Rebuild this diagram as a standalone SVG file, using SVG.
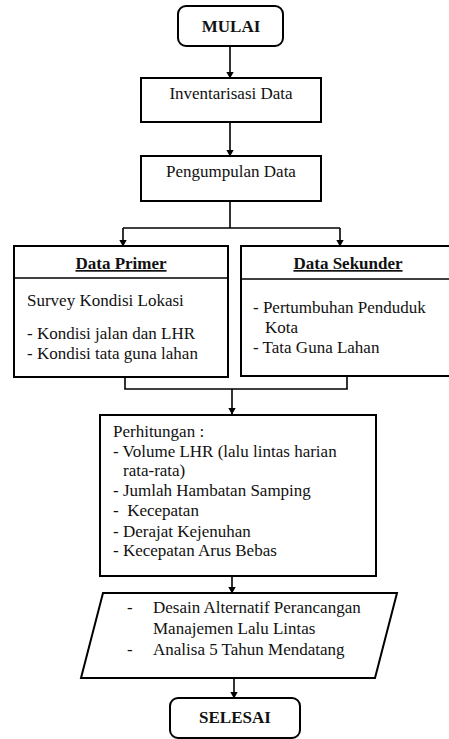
<svg xmlns="http://www.w3.org/2000/svg" width="449" height="739" viewBox="0 0 449 739">
<style>
.box{fill:#fff;stroke:#000;stroke-width:2}
.ln{fill:none;stroke:#000;stroke-width:1.6}
text{font-family:'Liberation Serif','Times New Roman',Tinos,'DejaVu Serif',serif;fill:#111;font-size:17px}
.b{font-weight:bold}
.c{text-anchor:middle}
.u{text-decoration:underline}
</style>
<defs>
<marker id="ah" markerWidth="7" markerHeight="8" refX="6.5" refY="4" orient="auto" markerUnits="userSpaceOnUse">
<path d="M0,0 L7,4 L0,8 Z" fill="#000"/>
</marker>
</defs>
<rect width="449" height="739" fill="#fff"/>
<g id="connectors">
<line class="ln" x1="230" y1="46" x2="230" y2="78" marker-end="url(#ah)"/>
<line class="ln" x1="230" y1="122" x2="230" y2="156" marker-end="url(#ah)"/>
<polyline class="ln" points="230,201 230,228"/>
<polyline class="ln" points="123,228 340,228"/>
<polyline class="ln" points="123,228 123,246" marker-end="url(#ah)"/>
<polyline class="ln" points="340,228 340,246" marker-end="url(#ah)"/>
<polyline class="ln" points="125,377 125,389 347,389 347,376"/>
<line class="ln" x1="232" y1="389" x2="232" y2="414" marker-end="url(#ah)"/>
<line class="ln" x1="232" y1="576" x2="232" y2="593" marker-end="url(#ah)"/>
<line class="ln" x1="234" y1="678" x2="234" y2="698" marker-end="url(#ah)"/>
</g>
<g id="mulai">
<rect class="box" x="178" y="6" width="105" height="40" rx="8"/>
<text class="b c" x="231" y="32" font-size="16">MULAI</text>
</g>
<g id="inventarisasi">
<rect class="box" x="141" y="78" width="180" height="44"/>
<text class="c" x="231" y="99">Inventarisasi Data</text>
</g>
<g id="pengumpulan">
<rect class="box" x="141" y="156" width="180" height="45"/>
<text class="c" x="231" y="177">Pengumpulan Data</text>
</g>
<g id="data-primer">
<rect class="box" x="14" y="246" width="214" height="131"/>
<line class="ln" x1="14" y1="278" x2="228" y2="278" stroke-width="2"/>
<text class="b c u" x="121" y="269">Data Primer</text>
<text x="27" y="306">Survey Kondisi Lokasi</text>
<text x="27" y="339">- Kondisi jalan dan LHR</text>
<text x="27" y="359">- Kondisi tata guna lahan</text>
</g>
<g id="data-sekunder">
<rect class="box" x="241" y="246" width="214" height="130"/>
<line class="ln" x1="241" y1="279" x2="455" y2="279" stroke-width="2"/>
<text class="b c u" x="348" y="269">Data Sekunder</text>
<text x="253" y="313">- Pertumbuhan Penduduk</text>
<text x="265" y="333">Kota</text>
<text x="253" y="353">- Tata Guna Lahan</text>
</g>
<g id="perhitungan">
<rect class="box" x="100" y="415" width="276" height="161"/>
<text x="113" y="437">Perhitungan :</text>
<text x="113" y="457">- Volume LHR (lalu lintas harian</text>
<text x="123" y="476">rata-rata)</text>
<text x="113" y="496">- Jumlah Hambatan Samping</text>
<text x="113" y="516" xml:space="preserve">-  Kecepatan</text>
<text x="113" y="537">- Derajat Kejenuhan</text>
<text x="113" y="556">- Kecepatan Arus Bebas</text>
</g>
<g id="desain">
<polygon class="box" points="103,593 397,593 375,678 81,678"/>
<text x="127" y="613">-</text>
<text x="153" y="613">Desain Alternatif Perancangan</text>
<text x="153" y="634">Manajemen Lalu Lintas</text>
<text x="127" y="655">-</text>
<text x="153" y="655">Analisa 5 Tahun Mendatang</text>
</g>
<g id="selesai">
<rect class="box" x="170" y="698" width="130" height="40" rx="8"/>
<text class="b c" x="235" y="723" font-size="16">SELESAI</text>
</g>
</svg>
